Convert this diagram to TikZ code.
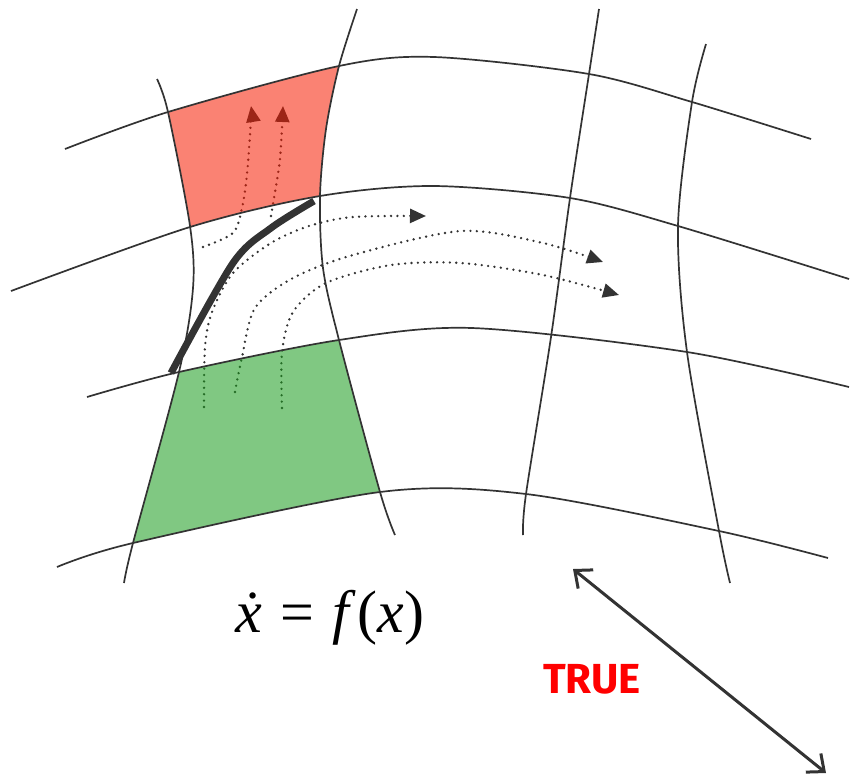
\documentclass[tikz,border=0pt]{standalone}
\usepackage{fontspec}
\usetikzlibrary{arrows.meta}
\newfontfamily\formelfont{Liberation Serif}
\newfontfamily\wahrfont{Fira Sans}
\definecolor{gitter}{RGB}{51,51,51}
\definecolor{rotfeld}{RGB}{245,27,0}
\definecolor{gruenfeld}{RGB}{24,155,27}
\definecolor{wahrrot}{RGB}{255,0,0}

\begin{document}
\begin{tikzpicture}[x=0.5pt, y=-0.5pt,
    gitterlinie/.style={draw=gitter, line width=0.85pt},
    bahn/.style={draw=gitter, line width=1.3pt, dash pattern=on 0pt off 3.2pt, line cap=round, -{Triangle[length=8pt, width=7pt]}},
    feld/.style={fill opacity=0.55}]
    \useasboundingbox (0,0) rectangle (851,778);
    % Trajektorien (unter den Feldern)
    \draw[bahn] plot[smooth] coordinates {(203,247) (233,233) (242,208) (247,174) (251,119) (251,106)};
    \draw[bahn] plot[smooth] coordinates {(271,216) (274,198) (280,159) (283,106)};
    \draw[bahn] plot[smooth] coordinates {(204,407) (205,347) (212,312) (233,273) (271,243) (309,226) (353,217) (426,216)};
    \draw[bahn] plot[smooth] coordinates {(235,392) (242,357) (255,308) (293,278) (353,255) (461,231) (543,243) (603,262)};
    \draw[bahn] plot[smooth] coordinates {(282,408) (282,352) (293,312) (326,283) (391,265) (461,263) (543,275) (619,295)};
    % Rotes Feld
    \begin{scope}
        \clip plot[smooth] coordinates {(65,149) (168,112) (339,66) (434,57) (589,74) (692,102) (811,139)}
            -- plot[smooth] coordinates {(849,279) (678,226) (570,198) (434,186) (320,196) (190,227) (11,291)} -- cycle;
        \clip plot[smooth] coordinates {(157,79) (168,112) (190,226) (193,288) (179,372) (133,543) (124,583)}
            -- plot[smooth] coordinates {(395,535) (380,492) (339,340) (323,268) (320,196) (326,129) (339,66) (357,9)} -- cycle;
        \fill[feld, rotfeld] (0,0) rectangle (851,778);
    \end{scope}
    % Gruenes Feld
    \begin{scope}
        \clip plot[smooth] coordinates {(87,397) (179,372) (339,340) (472,328) (687,352) (849,387)}
            -- plot[smooth] coordinates {(828,558) (719,531) (526,494) (380,492) (133,543) (57,567)} -- cycle;
        \clip plot[smooth] coordinates {(157,79) (168,112) (190,226) (193,288) (179,372) (133,543) (124,583)}
            -- plot[smooth] coordinates {(395,535) (380,492) (339,340) (323,268) (320,196) (326,129) (339,66) (357,9)} -- cycle;
        \fill[feld, gruenfeld] (0,0) rectangle (851,778);
    \end{scope}
    % Gitter: waagrechte Linien
    \draw[gitterlinie] plot[smooth] coordinates {(65,149) (168,112) (339,66) (434,57) (589,74) (692,102) (811,139)};
    \draw[gitterlinie] plot[smooth] coordinates {(11,291) (190,227) (320,196) (434,186) (570,198) (678,226) (849,279)};
    \draw[gitterlinie] plot[smooth] coordinates {(87,397) (179,372) (339,340) (472,328) (687,352) (849,387)};
    \draw[gitterlinie] plot[smooth] coordinates {(57,567) (133,543) (380,492) (526,494) (719,531) (828,558)};
    % Gitter: senkrechte Linien
    \draw[gitterlinie] plot[smooth] coordinates {(157,79) (168,112) (190,226) (193,288) (179,372) (133,543) (124,583)};
    \draw[gitterlinie] plot[smooth] coordinates {(357,9) (339,66) (326,129) (320,196) (323,268) (339,340) (380,492) (395,535)};
    \draw[gitterlinie] plot[smooth] coordinates {(599,9) (589,74) (570,198) (551,337) (526,494) (523,535)};
    \draw[gitterlinie] plot[smooth] coordinates {(706,44) (692,102) (678,226) (687,352) (719,531) (730,583)};
    % Randkurve
    \draw[gitter, line width=3.5pt] plot[smooth] coordinates {(171,373) (233,263) (271,228) (314,201)};
    % Formel
    \node[font=\formelfont\fontsize{30}{34}\selectfont, inner sep=0pt] (formel) at (330,618)
        {\textit{\.x}\hspace{0.3em}=\hspace{0.3em}\textit{f}\kern1pt(\textit{x})};
    % Doppelpfeil und Beschriftung
    \coordinate (pfeilA) at (573,569);
    \coordinate (pfeilB) at (826,773);
    \draw[gitter, line width=1.5pt, {Straight Barb[length=7pt, width=12pt]}-{Straight Barb[length=7pt, width=12pt]}] (pfeilA) -- (pfeilB);
    \node[text=wahrrot, font=\wahrfont\bfseries\fontsize{21}{24}\selectfont] (wahr) at (592,679) {TRUE};
\end{tikzpicture}
\end{document}
